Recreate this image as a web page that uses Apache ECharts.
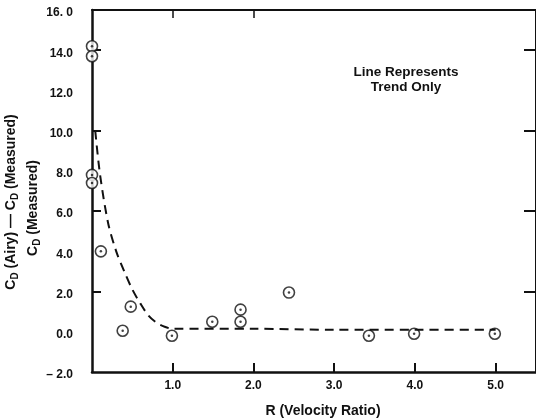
<!DOCTYPE html>
<html>
<head>
<meta charset="utf-8">
<script src="https://cdn.jsdelivr.net/npm/echarts@6/dist/echarts.min.js"></script>
<style>
html, body { margin: 0; padding: 0; background: #fff; }
#chart { width: 536px; height: 420px; }
</style>
</head>
<body>
<div id="chart"></div>
<script>
// measured points
var pointR  = [0, 0, 0, 0, 0.11, 0.38, 0.48, 0.99, 1.49, 1.84, 1.84, 2.44, 3.43, 3.99, 4.99];
var pointCD = [14.2, 13.7, 7.8, 7.4, 4.0, 0.05, 1.25, -0.2, 0.5, 1.1, 0.5, 1.95, -0.2, -0.1, -0.1];

// dashed trend line
var trendR  = [0.04, 0.1, 0.2, 0.3, 0.4, 0.5, 0.6, 0.7, 0.8, 0.9, 1.0, 2.0, 3.0, 4.0, 5.0];
var trendCD = [10.0, 7.8, 5.4, 4.0, 3.0, 2.1, 1.4, 0.8, 0.45, 0.25, 0.15, 0.15, 0.1, 0.1, 0.1];

var xLabelValues = [1, 2, 3, 4, 5];
var xTopTicks = [1, 2];
var yTickValues = [14, 10, 6, 2];

function fmtY(v) {
    if (v === 16) return '16. 0';
    if (v === -2) return '\u2013 2.0';
    return v.toFixed(1);
}

var chartDom = document.getElementById('chart');
var myChart = echarts.init(chartDom, null, { renderer: 'canvas' });

var font = 'Liberation Sans';
var ink = '#111';

var points = pointR.map(function (r, i) { return [r, pointCD[i]]; });
var trend = trendR.map(function (r, i) { return [r, trendCD[i]]; });

var titleRich = {
    a: { fontFamily: font, fontWeight: 'bold', fontSize: 14, lineHeight: 18, fill: ink },
    s: { fontFamily: font, fontWeight: 'bold', fontSize: 10, lineHeight: 18, verticalAlign: 'bottom', padding: [7, 0, 0, 0], fill: ink }
};

var option = {
    animation: false,
    backgroundColor: '#fff',
    grid: { left: 92, top: 10, width: 450, height: 362 },
    xAxis: [
        {
            type: 'value', position: 'bottom', min: 0, max: 5.5, interval: 1,
            axisLine: { show: true, onZero: false, lineStyle: { color: ink, width: 2.5 } },
            axisTick: { show: true, inside: true, length: 9, customValues: xLabelValues, lineStyle: { color: ink, width: 2 } },
            axisLabel: { customValues: xLabelValues, margin: 8, color: ink, fontFamily: font, fontWeight: 'bold', fontSize: 12,
                formatter: function (v) { return v.toFixed(1); } },
            splitLine: { show: false }
        },
        {
            type: 'value', position: 'top', min: 0, max: 5.5, interval: 1,
            axisLine: { show: true, onZero: false, lineStyle: { color: ink, width: 2 } },
            axisTick: { show: true, inside: true, length: 8, customValues: xTopTicks, lineStyle: { color: ink, width: 1.5 } },
            axisLabel: { show: false },
            splitLine: { show: false }
        }
    ],
    yAxis: [
        {
            type: 'value', position: 'left', min: -2, max: 16, interval: 2,
            axisLine: { show: true, onZero: false, lineStyle: { color: ink, width: 2.5 } },
            axisTick: { show: true, inside: true, length: 9, customValues: yTickValues, lineStyle: { color: ink, width: 2 } },
            axisLabel: { margin: 19, verticalAlign: 'top', lineHeight: 6, color: ink, fontFamily: font, fontWeight: 'bold', fontSize: 12, formatter: fmtY },
            splitLine: { show: false }
        },
        {
            type: 'value', position: 'right', min: -2, max: 16, interval: 2,
            axisLine: { show: true, onZero: false, lineStyle: { color: ink, width: 2 } },
            axisTick: { show: true, inside: true, length: 12, customValues: yTickValues, lineStyle: { color: ink, width: 2 } },
            axisLabel: { show: false },
            splitLine: { show: false }
        }
    ],
    graphic: [
        {
            type: 'text', x: 11, y: 202, rotation: Math.PI / 2,
            style: {
                text: '{a|C}{s|D}{a| (Airy) \u2014 C}{s|D}{a| (Measured)}',
                align: 'center', verticalAlign: 'middle', fill: ink, rich: titleRich
            }
        },
        {
            type: 'text', x: 33, y: 208, rotation: Math.PI / 2,
            style: {
                text: '{a|C}{s|D}{a| (Measured)}',
                align: 'center', verticalAlign: 'middle', fill: ink, rich: titleRich
            }
        },
        {
            type: 'text', x: 323, y: 411,
            style: { text: 'R (Velocity Ratio)', align: 'center', verticalAlign: 'middle', fill: ink,
                font: 'bold 14px "Liberation Sans"' }
        },
        {
            type: 'text', x: 406, y: 80,
            style: { text: 'Line Represents\nTrend Only', align: 'center', verticalAlign: 'middle', fill: ink,
                font: 'bold 13.5px "Liberation Sans"', lineHeight: 15 }
        }
    ],
    series: [
        {
            type: 'line', data: trend, smooth: 0.3, showSymbol: false, clip: false,
            lineStyle: { color: ink, width: 2, type: [9, 6] }
        },
        {
            type: 'scatter', data: points, symbol: 'circle', symbolSize: 11, clip: false,
            itemStyle: { color: '#fff', borderColor: ink, borderWidth: 1.6 }
        },
        {
            type: 'scatter', data: points, symbol: 'circle', symbolSize: 2.5, clip: false,
            itemStyle: { color: ink }
        }
    ]
};

if (option && typeof option === 'object') {
    myChart.setOption(option);
}
window.addEventListener('resize', myChart.resize);
</script>
</body>
</html>
